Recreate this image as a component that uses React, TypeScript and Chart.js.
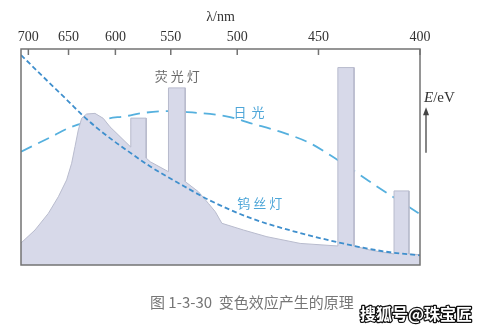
import React, { useEffect, useRef } from "react";
import { Chart, registerables } from "chart.js";

Chart.register(...registerables);

// photon energy (eV) = HC / wavelength (nm); the axis is linear in energy
const HC = 1239.84;
const tickWavelengths = [700, 650, 600, 550, 500, 450, 400];
const lambdaLeft = 710;
const lambdaRight = 400;

// fluorescent lamp spectrum (wavelength nm, relative intensity)
const fluorWavelength = [
  709.9, 691.2, 674.2, 662.0, 652.2, 646.4, 642.6, 638.9, 635.2, 629.8, 620.8, 612.2, 605.4,
  585.2, 585.2, 571.1, 571.1, 567.5,
  551.9, 551.9, 538.3, 538.3,
  528.0, 520.5, 515.5, 510.7, 495.8, 480.5, 460.4,
  439.5, 439.5, 431.1, 431.1,
  423.1, 411.7, 411.7, 404.9, 404.9, 400,
];
const fluorIntensity = [
  10.2, 16.2, 23.9, 31.6, 39.4, 47.1, 54.8, 62.5, 67.9, 69.9, 70.2, 67.9, 64.0,
  54.6, 68.0, 68.0, 49.5, 47.8,
  43.2, 82.0, 82.0, 38.6,
  33.9, 28.5, 24.7, 19.3, 16.2, 13.1, 10.0,
  8.8, 91.4, 91.4, 8.8,
  6.9, 5.1, 34.3, 34.3, 5.1, 4.8,
];

// daylight
const daylightWavelength = [709.9, 670.1, 646.4, 610.4, 587.5, 576.5, 553.0, 536.7, 504.9, 491.3, 472.3, 454.7, 443.7, 429.6, 415.0, 400];
const daylightIntensity = [52.5, 59.4, 64.0, 67.6, 69.1, 70.2, 71.2, 70.8, 68.5, 65.7, 61.7, 56.4, 50.9, 42.6, 33.3, 23.6];

// tungsten lamp
const tungstenWavelength = [709.9, 686.8, 670.1, 650.2, 633.4, 617.2, 600.4, 587.5, 567.5, 539.6, 520.4, 491.3, 462.3, 439.9, 426.6, 413.6, 400];
const tungstenIntensity = [97.2, 89.3, 83.3, 75.8, 69.0, 62.9, 57.0, 52.6, 45.6, 36.6, 30.2, 21.8, 15.2, 10.6, 8.0, 5.9, 4.5];

const toPoints = (w: number[], v: number[]) => w.map((l, i) => ({ x: HC / l, y: v[i] }));

function drawSpaced(ctx: CanvasRenderingContext2D, text: string, cx: number, cy: number, gap: number) {
  const chars = Array.from(text);
  const widths = chars.map((c) => ctx.measureText(c).width);
  const total = widths.reduce((a, b) => a + b, 0) + gap * (chars.length - 1);
  let x = cx - total / 2;
  ctx.textAlign = "left";
  chars.forEach((c, i) => {
    ctx.fillText(c, x, cy);
    x += widths[i] + gap;
  });
}

const decor = {
  id: "decor",
  afterDatasetsDraw(chart: any) {
    const { ctx, chartArea: a, scales } = chart;
    const x = scales.x;
    const y = scales.y;
    ctx.save();
    // frame
    ctx.strokeStyle = "#737373";
    ctx.lineWidth = 1.5;
    ctx.strokeRect(a.left, a.top, a.right - a.left, a.bottom - a.top);
    // inward tick marks
    tickWavelengths.forEach((w) => {
      const px = x.getPixelForValue(HC / w);
      ctx.beginPath();
      ctx.moveTo(px, a.top);
      ctx.lineTo(px, a.top + 6);
      ctx.stroke();
    });

    ctx.textBaseline = "middle";
    // series labels
    ctx.font = "13px 'Noto Sans CJK SC'";
    ctx.fillStyle = "#6a6a6a";
    drawSpaced(ctx, "荧光灯", x.getPixelForValue(HC / 544.7), y.getPixelForValue(87.5), 3);
    ctx.fillStyle = "#4ea6d8";
    drawSpaced(ctx, "日光", x.getPixelForValue(HC / 492), y.getPixelForValue(70.8), 5);
    drawSpaced(ctx, "钨丝灯", x.getPixelForValue(HC / 485.1), y.getPixelForValue(28.5), 3);

    // energy arrow
    const ax = a.right + 6;
    ctx.strokeStyle = "#444";
    ctx.fillStyle = "#444";
    ctx.lineWidth = 1.3;
    ctx.beginPath();
    ctx.moveTo(ax, y.getPixelForValue(52));
    ctx.lineTo(ax, y.getPixelForValue(70));
    ctx.stroke();
    const tipY = y.getPixelForValue(73);
    ctx.beginPath();
    ctx.moveTo(ax, tipY);
    ctx.lineTo(ax - 3, tipY + 8);
    ctx.lineTo(ax + 3, tipY + 8);
    ctx.closePath();
    ctx.fill();
    ctx.fillStyle = "#333";
    ctx.textAlign = "left";
    ctx.font = "italic 15px 'Liberation Serif'";
    ctx.fillText("E", ax - 2, y.getPixelForValue(77.5));
    const ew = ctx.measureText("E").width;
    ctx.font = "15px 'Liberation Serif'";
    ctx.fillText("/eV", ax - 2 + ew, y.getPixelForValue(77.5));

    // caption
    ctx.font = "15px 'Noto Sans CJK SC'";
    ctx.fillStyle = "#767676";
    ctx.textAlign = "left";
    ctx.fillText("图 1-3-30  变色效应产生的原理", 150, 302);

    // watermark
    ctx.font = "bold 16px 'Noto Sans CJK SC'";
    ctx.lineWidth = 2.5;
    ctx.strokeStyle = "#111";
    ctx.lineJoin = "round";
    ctx.strokeText("搜狐号@珠宝匠", 360, 314);
    ctx.fillStyle = "#ffffff";
    ctx.fillText("搜狐号@珠宝匠", 360, 314);
    ctx.restore();
  },
};

export default function App() {
  const ref = useRef<HTMLCanvasElement | null>(null);
  useEffect(() => {
    if (!ref.current) return;
    const chart = new Chart(ref.current, {
      type: "line",
      data: {
        datasets: [
          {
            label: "钨丝灯",
            data: toPoints(tungstenWavelength, tungstenIntensity),
            borderColor: "#3f8fcd",
            borderWidth: 1.8,
            borderDash: [5, 3],
            pointRadius: 0,
            fill: false,
            cubicInterpolationMode: "monotone",
            order: 0,
          },
          {
            label: "荧光灯",
            data: toPoints(fluorWavelength, fluorIntensity),
            borderColor: "#b8bbcd",
            backgroundColor: "#d7d9e9",
            borderWidth: 1,
            pointRadius: 0,
            fill: "origin",
            tension: 0,
            order: 1,
          },
          {
            label: "日光",
            data: toPoints(daylightWavelength, daylightIntensity),
            borderColor: "#55b0de",
            borderWidth: 1.8,
            borderDash: [12, 7],
            pointRadius: 0,
            fill: false,
            cubicInterpolationMode: "monotone",
            order: 2,
          },
        ],
      },
      options: {
        animation: false,
        responsive: false,
        devicePixelRatio: 1,
        layout: { padding: { left: 21, right: 65, top: 0, bottom: 64 } },
        plugins: { legend: { display: false }, tooltip: { enabled: false } },
        scales: {
          x: {
            type: "linear",
            position: "top",
            min: HC / lambdaLeft,
            max: HC / lambdaRight,
            grid: { display: false },
            border: { display: false },
            afterBuildTicks: (s: any) => {
              s.ticks = tickWavelengths.map((w) => ({ value: HC / w }));
            },
            afterFit: (s: any) => {
              s.height = 49;
            },
            ticks: {
              padding: -5,
              autoSkip: false,
              maxRotation: 0,
              color: "#333",
              font: { family: "'Liberation Serif'", size: 14 },
              callback: (v: any) => String(Math.round(HC / Number(v))),
            },
            title: {
              display: true,
              text: "λ/nm",
              color: "#333",
              font: { family: "'Liberation Serif'", size: 14 },
              padding: { top: 9, bottom: 0 },
            },
          },
          y: { display: false, min: 0, max: 100 },
        },
      },
      plugins: [decor],
    } as any);
    return () => chart.destroy();
  }, []);
  return (
    <div style={{ position: "absolute", left: 0, top: 0, width: 485, height: 329, background: "#fff" }}>
      <canvas ref={ref} width={485} height={329} style={{ width: 485, height: 329, display: "block" }} />
    </div>
  );
}
